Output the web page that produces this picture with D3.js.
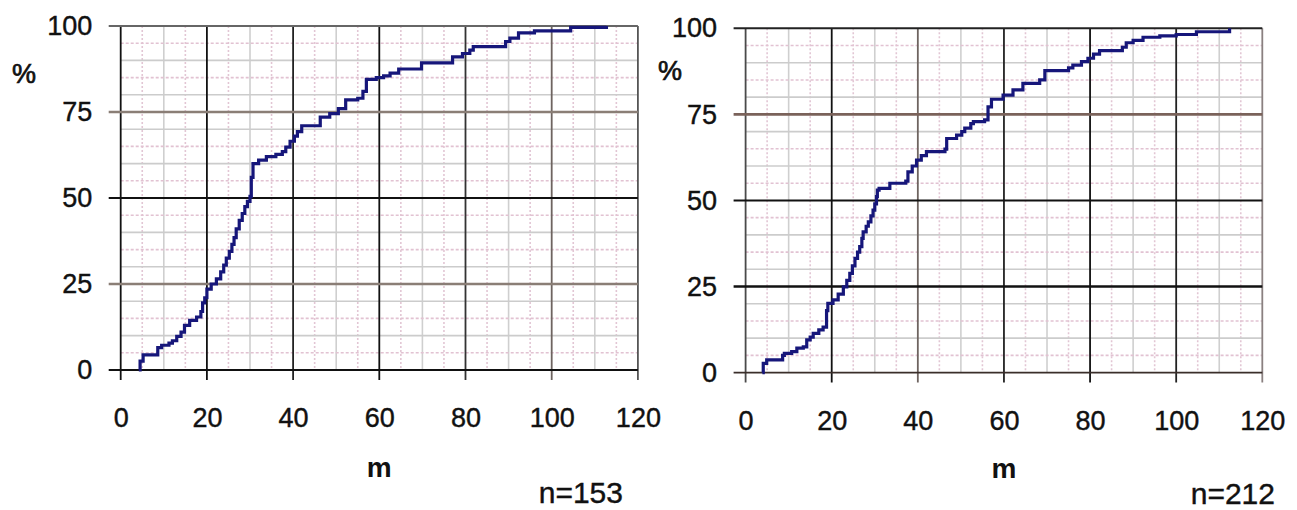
<!DOCTYPE html>
<html>
<head>
	<title>Cumulative distance curves</title>
	<style>
		body { margin: 0; background: #fff; }
		svg text { font-family: "Liberation Sans", Arial, sans-serif; fill: #111; }
	</style>
</head>
<body>
	<svg id="canvas" width="1297" height="510"></svg>
	<script src="https://cdnjs.cloudflare.com/ajax/libs/d3/7.8.5/d3.min.js"></script>
	<script>
		// x ticks (m) and y ticks (%)
		let xTicks = [0, 20, 40, 60, 80, 100, 120];
		let yTicks = [0, 25, 50, 75, 100];

		// left panel, n=153 : distance m -> cumulative %
		let leftM = [4.2, 4.5, 5.2, 8.6, 9.5, 11.2, 12, 13, 14, 14.8, 16, 17.6, 18.6, 19, 19.5, 20, 21, 22.2, 23.2, 23.9,
			24.5, 25.2, 25.8, 26.3, 26.8, 27.5, 28.2, 28.8, 29.4, 30, 30.3, 30.7, 32, 33.8, 36, 37.5, 38.3, 39.3, 40.3, 41,
			42, 46.3, 48.5, 50.5, 52.2, 55, 56.2, 57, 59.3, 61, 62.5, 64.5, 69.8, 77, 79.3, 81, 81.8, 89.3, 90.3, 92.3,
			96, 104.4, 112.7];
		let leftPct = [0, 2.6, 4.4, 6.5, 7.2, 7.8, 8.5, 9.8, 11, 13, 14.4, 15.4, 17, 19.5, 21, 23.5, 25, 26.5, 28.5, 30.5,
			32.5, 34.5, 36.5, 38.5, 41, 43.5, 45.5, 47.5, 49, 50.5, 56, 60, 61, 62, 62.7, 63.5, 64.8, 66.5, 68, 69.3,
			71, 73.5, 74.5, 76, 78.5, 79, 81, 84.5, 85, 85.5, 86.3, 87.5, 89.3, 91, 92, 93, 94, 95.5, 96.5, 98,
			98.6, 99.6, 100];

		// right panel, n=212
		let rightM = [3.9, 4.1, 4.9, 8.6, 9, 10.7, 11.9, 13.4, 14.2, 15, 15.7, 17, 18, 18.8, 19.1, 20.3, 21.5, 22.7, 23.5, 24.2,
			24.8, 25.4, 26, 26.5, 27, 27.3, 28, 28.5, 29.1, 29.6, 30, 30.4, 30.6, 31, 33.5, 37.2, 37.7, 38.7, 39.7, 40.8,
			42, 46.3, 46.7, 49, 50.2, 50.9, 52.3, 52.9, 55.5, 56.3, 57.1, 59.8, 62.1, 64.4, 68.3, 69.5, 75, 76, 78, 79.5,
			80.8, 82.2, 87.5, 88.4, 90, 92.3, 96.2, 100, 104.7, 112.2, 112.4];
		let rightPct = [0, 2.7, 3.7, 5, 5.6, 6.1, 7.1, 7.5, 9.5, 10.3, 11.4, 12.4, 13.2, 18, 20.1, 21.1, 22.8, 24.9, 26.8, 28.8,
			31, 33.2, 35, 36.6, 39, 40.9, 42.5, 43.8, 45.5, 47.2, 49, 51.1, 53, 53.5, 55, 55.6, 58.3, 60, 61.7, 63,
			64.2, 64.9, 68, 69, 70, 71, 72.3, 72.9, 73.4, 77.2, 79.4, 80.6, 82.1, 84, 85, 87.7, 88.5, 89.3, 90.3, 91.3,
			92.5, 93.5, 94.5, 95.8, 96.5, 97.4, 97.8, 98.2, 99, 99, 100];

		let panels = [
			{ m: leftM, pct: leftPct, n: "n=153",
			  left: 120.7, right: 637.9, bottom: 370, top: 26,
			  vCol: { 0: "#111", 20: "#111", 40: "#222", 60: "#111", 80: "#333", 100: "#6e6460", 120: "#555" },
			  hCol: { 0: "#111", 25: "#8a7e76", 50: "#111", 75: "#8a7e76", 100: "#666" },
			  pctX: 12, pctY: 83, nX: 623, nY: 503, mY: 477 },
			{ m: rightM, pct: rightPct, n: "n=212",
			  left: 745.6, right: 1262.3, bottom: 372.6, top: 28.3,
			  vCol: { 0: "#4a4a4a", 20: "#111", 40: "#6e6460", 60: "#222", 80: "#111", 100: "#222", 120: "#8a8080" },
			  hCol: { 0: "#3a2e2a", 25: "#111", 50: "#111", 75: "#7a625a", 100: "#222" },
			  pctX: 658, pctY: 80, nX: 1275, nY: 504, mY: 478 }
		];

		let svg = d3.select("#canvas");

		panels.forEach(function(p) {
			let x = d3.scaleLinear().domain([0, 120]).range([p.left, p.right]);
			let y = d3.scaleLinear().domain([0, 100]).range([p.bottom, p.top]);
			let g = svg.append("g");

			// minor grid every 5
			let minorX = d3.range(5, 120, 5).filter(function(v){ return v % 20 != 0; });
			let minorY = d3.range(5, 100, 5).filter(function(v){ return v % 25 != 0; });

			g.selectAll(".mx").data(minorX).enter().append("line")
				.attr("x1", function(d){ return x(d); }).attr("x2", function(d){ return x(d); })
				.attr("y1", y(100)).attr("y2", y(0))
				.attr("stroke", function(d){ return d % 10 == 5 ? "#e2c6d4" : "#cfcfcf"; })
				.attr("stroke-width", 1.6)
				.attr("stroke-dasharray", function(d){ return d % 10 == 5 ? "2,2" : null; });

			g.selectAll(".my").data(minorY).enter().append("line")
				.attr("x1", x(0)).attr("x2", x(120))
				.attr("y1", function(d){ return y(d); }).attr("y2", function(d){ return y(d); })
				.attr("stroke", function(d){ return d % 10 == 5 ? "#e2c2d2" : "#cccccc"; })
				.attr("stroke-width", 1.6)
				.attr("stroke-dasharray", function(d){ return d % 10 == 5 ? "3,2" : null; });

			// major grid + ticks
			g.selectAll(".vx").data(xTicks).enter().append("line")
				.attr("x1", function(d){ return x(d); }).attr("x2", function(d){ return x(d); })
				.attr("y1", y(100)).attr("y2", y(0) + 10)
				.attr("stroke", function(d){ return p.vCol[d]; })
				.attr("stroke-width", 1.8);

			g.selectAll(".hy").data(yTicks).enter().append("line")
				.attr("x1", x(0) - 12).attr("x2", x(120))
				.attr("y1", function(d){ return y(d); }).attr("y2", function(d){ return y(d); })
				.attr("stroke", function(d){ return p.hCol[d]; })
				.attr("stroke-width", function(d){ return (d == 25 || d == 75) ? 2.6 : 1.9; });

			// tick labels via axes, lines hidden
			let xAxis = g.append("g")
				.attr("transform", "translate(0," + y(0) + ")")
				.call(d3.axisBottom(x).tickValues(xTicks).tickSize(10).tickPadding(28));
			let yAxis = g.append("g")
				.attr("transform", "translate(" + x(0) + ",0)")
				.call(d3.axisLeft(y).tickValues(yTicks).tickSize(12).tickPadding(16.5));
			[xAxis, yAxis].forEach(function(a) {
				a.select(".domain").remove();
				a.selectAll(".tick line").remove();
				a.selectAll("text").attr("font-size", 27).attr("font-family", "Liberation Sans, Arial, sans-serif")
					.attr("fill", "#111").attr("stroke", "#111").attr("stroke-width", 0.4);
			});

			// curve
			let line = d3.line()
				.x(function(d){ return x(d[0]); })
				.y(function(d){ return y(d[1]); })
				.curve(d3.curveStepAfter);
			g.append("path")
				.datum(d3.zip(p.m, p.pct))
				.attr("d", line)
				.attr("fill", "none")
				.attr("stroke", "#16167a")
				.attr("stroke-width", 3.2)
				.attr("stroke-linejoin", "miter");

			// labels
			g.append("text").attr("x", p.pctX).attr("y", p.pctY)
				.attr("font-size", 27).attr("stroke", "#111").attr("stroke-width", 0.7).text("%");
			g.append("text").attr("x", x(60)).attr("y", p.mY)
				.attr("text-anchor", "middle").attr("font-size", 28).attr("font-weight", "bold").text("m");
			g.append("text").attr("x", p.nX).attr("y", p.nY)
				.attr("text-anchor", "end").attr("font-size", 30)
				.attr("stroke", "#111").attr("stroke-width", 0.4).text(p.n);
		});
	</script>
</body>
</html>
